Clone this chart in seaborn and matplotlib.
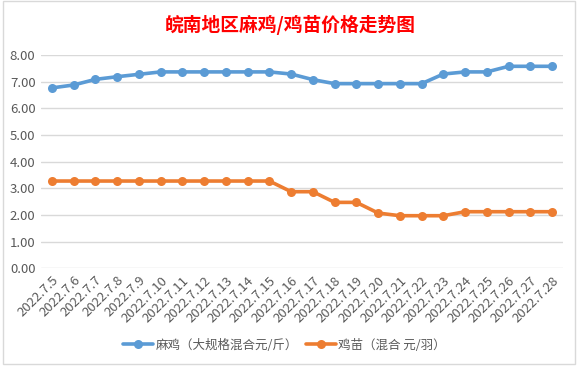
import numpy as np
import pandas as pd
import matplotlib.pyplot as plt
import seaborn as sns
from matplotlib.patches import Rectangle

# 日期与价格
dates = ['2022.7.5', '2022.7.6', '2022.7.7', '2022.7.8', '2022.7.9', '2022.7.10',
         '2022.7.11', '2022.7.12', '2022.7.13', '2022.7.14', '2022.7.15', '2022.7.16',
         '2022.7.17', '2022.7.18', '2022.7.19', '2022.7.20', '2022.7.21', '2022.7.22',
         '2022.7.23', '2022.7.24', '2022.7.25', '2022.7.26', '2022.7.27', '2022.7.28']
maji = [6.76, 6.87, 7.08, 7.18, 7.27, 7.36, 7.36, 7.36, 7.36, 7.36, 7.36, 7.28,
        7.07, 6.92, 6.92, 6.92, 6.92, 6.92, 7.28, 7.36, 7.36, 7.57, 7.57, 7.57]
jimiao = [3.27, 3.27, 3.27, 3.27, 3.27, 3.27, 3.27, 3.27, 3.27, 3.27, 3.27, 2.87,
          2.87, 2.47, 2.47, 2.07, 1.97, 1.97, 1.97, 2.12, 2.12, 2.12, 2.12, 2.12]
series_names = ['麻鸡（大规格混合元/斤）', '鸡苗（混合 元/羽）']
colors = ['#5B9BD5', '#ED7D31']

df = pd.DataFrame({
    'date': dates * 2,
    'price': maji + jimiao,
    'series': [series_names[0]] * len(dates) + [series_names[1]] * len(dates),
})

sns.set_theme(style='white')
plt.rcParams['font.family'] = ['Noto Sans CJK SC', 'DejaVu Sans']

fig = plt.figure(figsize=(5.81, 3.68), dpi=100)
ax = fig.add_axes([0.0706, 0.271, 0.8984, 0.580])

sns.lineplot(data=df, x='date', y='price', hue='series', palette=colors,
             marker='o', markersize=6.5, markeredgewidth=0, linewidth=2.6,
             sort=False, ax=ax)

ax.set_xlim(-0.5, len(dates) - 0.5)
ax.set_ylim(0, 8)
ax.set_yticks(np.arange(0, 9, 1))
ax.set_yticklabels([f'{v:.2f}' for v in range(9)])
ax.grid(axis='y', color='#D9D9D9', linewidth=1)
ax.set_axisbelow(True)
for s in ax.spines.values():
    s.set_visible(False)
ax.set_xlabel('')
ax.set_ylabel('')
ax.tick_params(axis='both', length=0, labelsize=9.5, colors='#595959', pad=4)
plt.setp(ax.get_xticklabels(), rotation=45, ha='right', rotation_mode='anchor')

ax.legend(loc='center', bbox_to_anchor=(0.49, 0.062), bbox_transform=fig.transFigure,
          ncol=2, frameon=False, fontsize=9, labelcolor='#595959',
          handlelength=2.4, columnspacing=0.6, handletextpad=0.2)

fig.text(0.499, 0.933, '皖南地区麻鸡/鸡苗价格走势图', ha='center', va='center',
         fontsize=13.5, fontweight='bold', color='red')

fig.patches.append(Rectangle((3 / 581, 4 / 368), 572 / 581, 363 / 368,
                             transform=fig.transFigure, fill=False,
                             edgecolor='#D9D9D9', linewidth=1))

plt.savefig('out.png', dpi=100)
